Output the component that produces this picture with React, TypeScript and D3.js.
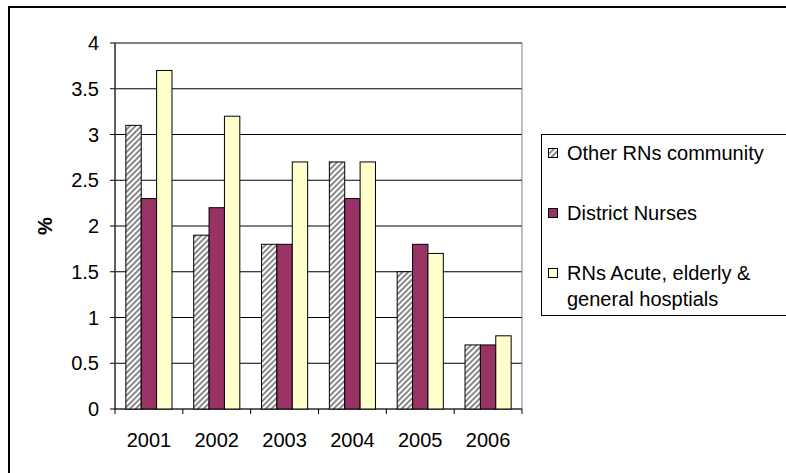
import React from 'react';
import * as d3 from 'd3';

const years = ['2001', '2002', '2003', '2004', '2005', '2006'];
const otherRNs = [3.1, 1.9, 1.8, 2.7, 1.5, 0.7];
const districtNurses = [2.3, 2.2, 1.8, 2.3, 1.8, 0.7];
const rnsAcute = [3.7, 3.2, 2.7, 2.7, 1.7, 0.8];
const yTicks = [0, 0.5, 1, 1.5, 2, 2.5, 3, 3.5, 4];

const series = [
  { name: 'Other RNs community', values: otherRNs, fill: 'url(#hatch)' },
  { name: 'District Nurses', values: districtNurses, fill: '#993366' },
  { name: 'RNs Acute, elderly &|general hosptials', values: rnsAcute, fill: '#FFFFCC' },
];

const App: React.FC = () => {
  const W = 786, H = 473;
  const left = 115, right = 522, top = 43, bottom = 409;
  const x = d3.scaleBand<string>().domain(years).range([left, right]).paddingInner(0.32).paddingOuter(0.16);
  const bw = x.bandwidth() / 3;
  const y = d3.scaleLinear().domain([0, 4]).range([bottom, top]);
  const step = (right - left) / years.length;
  const font = 'Arial, "Liberation Sans", sans-serif';

  return (
    <svg width={W} height={H} style={{ position: 'absolute', left: 0, top: 0 }} fontFamily={font}>
      <defs>
        <pattern id="hatch" width="4" height="4" patternUnits="userSpaceOnUse" patternTransform="rotate(45)">
          <rect width="4" height="4" fill="#fff" />
          <rect width="2" height="4" fill="#888" />
        </pattern>
      </defs>
      <rect x={0} y={0} width={W} height={H} fill="#fff" />
      <rect x={9} y={7} width={W + 10} height={H} fill="none" stroke="#000" strokeWidth={2} />
      {yTicks.map(t => (
        <g key={t}>
          {t > 0 && <line x1={left} x2={right} y1={y(t)} y2={y(t)} stroke="#000" />}
          <line x1={left - 5} x2={left} y1={y(t)} y2={y(t)} stroke="#000" />
          <text x={left - 16} y={y(t)} dy="0.35em" textAnchor="end" fontSize={20}>{t}</text>
        </g>
      ))}
      <rect x={left} y={top} width={right - left} height={bottom - top} fill="none" stroke="#808080" />
      <line x1={left} x2={left} y1={top} y2={bottom} stroke="#000" />
      <line x1={left} x2={right} y1={bottom} y2={bottom} stroke="#000" />
      {years.map((yr, i) => (
        <g key={yr}>
          <line x1={left + i * step} x2={left + i * step} y1={bottom} y2={bottom + 5} stroke="#000" />
          <text x={left + (i + 0.5) * step} y={447} textAnchor="middle" fontSize={20}>{yr}</text>
        </g>
      ))}
      <line x1={right} x2={right} y1={bottom} y2={bottom + 5} stroke="#000" />
      {series.map((s, si) =>
        s.values.map((v, i) => (
          <rect key={si + '-' + i} x={x(years[i])! + si * bw} y={y(v)} width={bw} height={bottom - y(v)}
            fill={s.fill} stroke="#000" strokeWidth={1} />
        ))
      )}
      <text transform={`translate(52,${(top + bottom) / 2}) rotate(-90)`} textAnchor="middle" fontSize={20} fontWeight="bold">%</text>
      <rect x={541.5} y={134.5} width={260} height={181} fill="#fff" stroke="#000" />
      {series.map((s, si) => {
        const ly = 153 + si * 60;
        const lines = s.name.split('|');
        return (
          <g key={s.name}>
            <rect x={548.5} y={ly - 4.5} width={9} height={9} fill={s.fill} stroke="#000" />
            {lines.map((l, li) => (
              <text key={li} x={567} y={ly + li * 26} dy="0.35em" fontSize={20}>{l}</text>
            ))}
          </g>
        );
      })}
    </svg>
  );
};

export default App;
